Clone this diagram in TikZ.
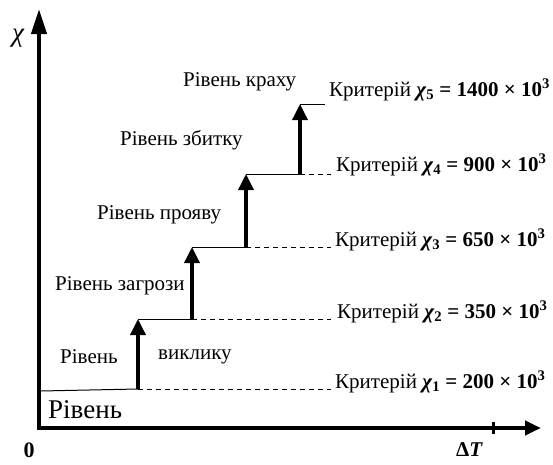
\documentclass[tikz,border=0pt]{standalone}
\usepackage{fontspec}
\setmainfont{Liberation Serif}
\usetikzlibrary{arrows.meta}
\begin{document}
\begin{tikzpicture}[x=1pt,y=-1pt,
  lbl/.style={anchor=west,inner sep=0pt,font=\fontsize{21}{24}\selectfont},
  axisline/.style={line width=4pt},
  steparrow/.style={line width=3.5pt,-{Triangle[length=16pt,width=15pt]}},
  thinline/.style={line width=1pt},
  dashline/.style={line width=1pt,dash pattern=on 5pt off 4pt}]
\useasboundingbox (0,0) rectangle (553,464);
% coordinates
\coordinate (o) at (39,428);
\coordinate (ytop) at (39,9);
\coordinate (xend) at (541,428);
\coordinate (b0) at (40,391);
\coordinate (s1) at (138,389);
\coordinate (t1) at (138,319);
\coordinate (t2) at (192,247);
\coordinate (t3) at (246,174);
\coordinate (t4) at (300,104);
\coordinate (e5) at (325,104);
\coordinate (d1) at (331,389);
\coordinate (d2) at (331,319);
\coordinate (d3) at (331,247);
\coordinate (d4) at (331,174);
\coordinate (tk1) at (493,422);
\coordinate (tk2) at (493,434);
% axes
\draw[axisline,-{Triangle[length=25pt,width=15pt]}] (o) -- (ytop);
\draw[axisline,-{Triangle[length=16pt,width=14pt]}] ([xshift=-2pt]o) -- (xend);
\draw[line width=3pt] (tk1) -- (tk2);
% baseline
\draw[thinline] (b0) -- (s1);
% steps
\draw[steparrow] (s1) -- (t1);
\draw[thinline] (t1) -- (t1 -| t2);
\draw[steparrow] (t1 -| t2) -- (t2);
\draw[thinline] (t2) -- (t2 -| t3);
\draw[steparrow] (t2 -| t3) -- (t3);
\draw[thinline] (t3) -- (t3 -| t4);
\draw[steparrow] (t3 -| t4) -- (t4);
\draw[thinline] (t4) -- (e5);
% dashed
\draw[dashline] (s1) -- (d1);
\draw[dashline] (t1 -| t2) -- (d2);
\draw[dashline] (t2 -| t3) -- (d3);
\draw[dashline] (t3 -| t4) -- (d4);
% axis labels
\node[inner sep=0pt,font=\fontsize{27}{29}\selectfont\itshape] (chi) at (18,38) {χ};
\node[inner sep=0pt,font=\fontsize{22}{24}\selectfont\bfseries] (zero) at (29,450) {0};
\node[inner sep=0pt,anchor=north west,font=\fontsize{21}{23}\selectfont\bfseries] (dT) at (456,442) {Δ\textit{T}};
% level labels
\node[lbl] (l5) at (183,82) {Рівень краху};
\node[lbl] (l4) at (120,140) {Рівень збитку};
\node[lbl] (l3) at (97,215) {Рівень прояву};
\node[lbl] (l2) at (55,286) {Рівень загрози};
\node[lbl] (l1a) at (60,357) {Рівень};
\node[lbl] (l1b) at (158,357) {виклику};
\node[lbl,font=\fontsize{27}{29}\selectfont] (l0) at (48,410) {Рівень};
% criteria
\node[lbl] (c5) at (329,90) {Критерій \textbf{\textit{χ}\textsubscript{5} = 1400 × 10\textsuperscript{3}}};
\node[lbl] (c4) at (336,165) {Критерій \textbf{\textit{χ}\textsubscript{4} = 900 × 10\textsuperscript{3}}};
\node[lbl] (c3) at (335,240) {Критерій \textbf{\textit{χ}\textsubscript{3} = 650 × 10\textsuperscript{3}}};
\node[lbl] (c2) at (337,312) {Критерій \textbf{\textit{χ}\textsubscript{2} = 350 × 10\textsuperscript{3}}};
\node[lbl] (c1) at (335,382) {Критерій \textbf{\textit{χ}\textsubscript{1} = 200 × 10\textsuperscript{3}}};
\end{tikzpicture}
\end{document}
